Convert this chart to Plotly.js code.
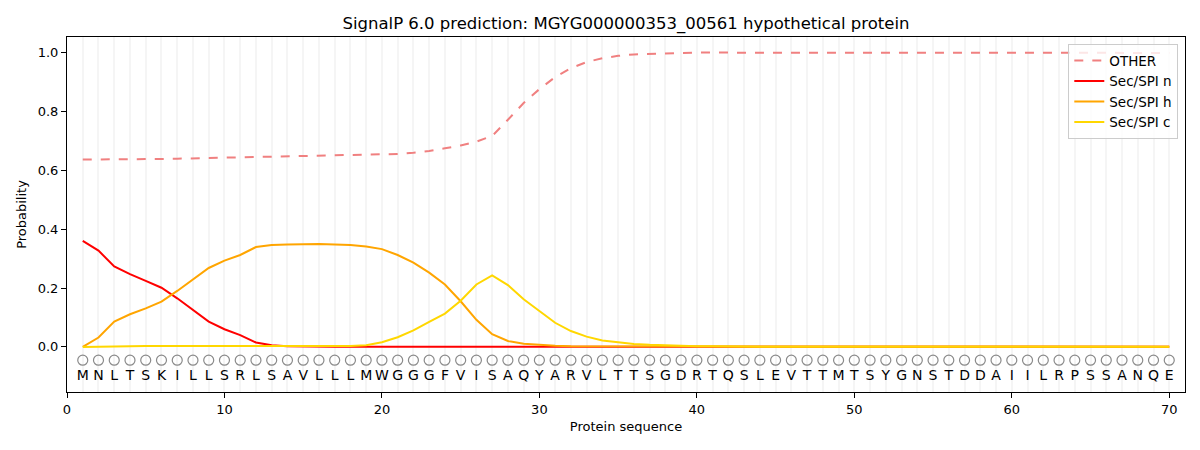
<!DOCTYPE html>
<html>
<head>
<meta charset="utf-8">
<script src="https://cdn.plot.ly/plotly-3.0.1.min.js"></script>
<style>
  body { margin: 0; background: #fff; }
  #chart { width: 1200px; height: 450px; }
</style>
</head>
<body>
<div id="chart"></div>
<script>
// protein sequence, one residue per position
const residues = "MNLTSKILLSRLSAVLLLMWGGGFVISAQYARVLTTSGDRTQSLEVTTMTSYGNSTDDAIILRPSSANQE".split("");
const positions = residues.map((r, i) => i + 1);

// values
const otherProb = [
	0.636, 0.636, 0.636, 0.637, 0.637, 0.638, 0.639, 0.640, 0.641, 0.642,
	0.643, 0.644, 0.645, 0.646, 0.647, 0.648, 0.649, 0.650, 0.651, 0.653,
	0.655, 0.659, 0.665, 0.674, 0.684, 0.697, 0.716, 0.771, 0.828, 0.875,
	0.916, 0.946, 0.967, 0.980, 0.988, 0.993, 0.995, 0.997, 0.998, 0.999,
	0.999, 0.999, 0.999, 0.999, 0.999, 0.999, 0.999, 0.999, 0.999, 0.999,
	0.999, 0.999, 0.999, 0.999, 0.999, 0.999, 0.999, 0.999, 0.999, 0.999,
	0.998, 0.998, 0.998, 0.998, 0.998, 0.998, 0.998, 0.998, 0.998, 0.998
];
const secN = [
	0.360, 0.327, 0.273, 0.247, 0.224, 0.201, 0.165, 0.125, 0.086, 0.060,
	0.040, 0.015, 0.006, 0.002, 0.001, 0.001, 0.001, 0.001, 0.001, 0.001,
	0.001, 0.001, 0.001, 0.001, 0.001, 0.001, 0.001, 0.001, 0.001, 0.001,
	0.001, 0.001, 0.001, 0.001, 0.001, 0.001, 0.001, 0.001, 0.001, 0.001,
	0.001, 0.001, 0.001, 0.001, 0.001, 0.001, 0.001, 0.001, 0.001, 0.001,
	0.001, 0.001, 0.001, 0.001, 0.001, 0.001, 0.001, 0.001, 0.001, 0.001,
	0.001, 0.001, 0.001, 0.001, 0.001, 0.001, 0.001, 0.001, 0.001, 0.001
];
const secH = [
	0.000, 0.032, 0.086, 0.111, 0.131, 0.154, 0.190, 0.228, 0.268, 0.293,
	0.312, 0.339, 0.346, 0.348, 0.349, 0.349, 0.348, 0.346, 0.341, 0.332,
	0.312, 0.286, 0.252, 0.212, 0.155, 0.092, 0.043, 0.020, 0.011, 0.007,
	0.004, 0.002, 0.002, 0.001, 0.001, 0.001, 0.001, 0.001, 0.001, 0.001,
	0.001, 0.001, 0.001, 0.001, 0.001, 0.001, 0.001, 0.001, 0.001, 0.001,
	0.001, 0.001, 0.001, 0.001, 0.001, 0.001, 0.001, 0.001, 0.001, 0.001,
	0.001, 0.001, 0.001, 0.001, 0.001, 0.001, 0.001, 0.001, 0.001, 0.001
];
const secC = [
	0.000, 0.000, 0.001, 0.002, 0.003, 0.003, 0.003, 0.002, 0.002, 0.002,
	0.002, 0.002, 0.002, 0.001, 0.001, 0.001, 0.002, 0.003, 0.006, 0.016,
	0.033, 0.056, 0.085, 0.113, 0.157, 0.212, 0.243, 0.210, 0.162, 0.122,
	0.082, 0.054, 0.035, 0.022, 0.015, 0.010, 0.007, 0.005, 0.003, 0.002,
	0.002, 0.001, 0.001, 0.001, 0.001, 0.001, 0.001, 0.001, 0.001, 0.001,
	0.001, 0.001, 0.001, 0.001, 0.001, 0.001, 0.001, 0.001, 0.001, 0.001,
	0.001, 0.001, 0.001, 0.001, 0.001, 0.001, 0.001, 0.001, 0.001, 0.001
];

const font = "DejaVu Sans, sans-serif";

let otherTrace = {
	x: positions, y: otherProb, name: "OTHER",
	type: "scatter", mode: "lines",
	line: {color: "#f08080", width: 2, dash: "dash"}
};
let nTrace = {
	x: positions, y: secN, name: "Sec/SPI n",
	type: "scatter", mode: "lines",
	line: {color: "#ff0000", width: 2}
};
let hTrace = {
	x: positions, y: secH, name: "Sec/SPI h",
	type: "scatter", mode: "lines",
	line: {color: "#ffa500", width: 2}
};
let cTrace = {
	x: positions, y: secC, name: "Sec/SPI c",
	type: "scatter", mode: "lines",
	line: {color: "#ffd700", width: 2}
};
let circleTrace = {
	x: positions, y: positions.map(() => -0.045),
	xaxis: "x2", type: "scatter", mode: "markers",
	marker: {symbol: "circle-open", size: 10, color: "#8a8a8a", line: {width: 1.2}},
	showlegend: false, hoverinfo: "skip"
};
let letterTrace = {
	x: positions, y: positions.map(() => -0.1),
	xaxis: "x2", type: "scatter", mode: "text",
	text: residues, textfont: {family: font, size: 14, color: "#000"},
	showlegend: false, hoverinfo: "skip"
};

let layout = {
	width: 1200, height: 450,
	margin: {l: 67, r: 15, t: 37, b: 58},
	paper_bgcolor: "#fff", plot_bgcolor: "#fff",
	font: {family: font, size: 13, color: "#000"},
	title: {text: "SignalP 6.0 prediction: MGYG000000353_00561 hypothetical protein",
		font: {family: font, size: 16.5}, xref: "paper", x: 0.5, xanchor: "center",
		yref: "container", y: 0.949, yanchor: "middle"},
	xaxis: {
		range: [0, 71], tick0: 1, dtick: 1,
		showgrid: true, gridcolor: "#f5f5f5", gridwidth: 1.8,
		showticklabels: false, ticks: "", zeroline: false,
		showline: true, mirror: true, linecolor: "#000", linewidth: 1
	},
	xaxis2: {
		overlaying: "x", anchor: "y", side: "bottom",
		range: [0, 71], tick0: 0, dtick: 10,
		showgrid: false, zeroline: false,
		ticks: "outside", ticklen: 5, tickcolor: "#000",
		tickfont: {family: font, size: 13},
		title: {text: "Protein sequence", font: {family: font, size: 13}, standoff: 6}
	},
	yaxis: {
		range: [-0.153, 1.052], tick0: 0, dtick: 0.2, tickformat: ".1f",
		showgrid: false, zeroline: false,
		ticks: "outside", ticklen: 5, tickcolor: "#000",
		showline: true, mirror: true, linecolor: "#000", linewidth: 1,
		tickfont: {family: font, size: 13},
		title: {text: "Probability", font: {family: font, size: 13}, standoff: 8}
	},
	legend: {
		x: 0.994, y: 0.98, xanchor: "right", yanchor: "top",
		bgcolor: "rgba(255,255,255,0.8)", bordercolor: "#cccccc", borderwidth: 1,
		font: {family: font, size: 13.5}
	},
	showlegend: true
};

Plotly.newPlot("chart", [otherTrace, nTrace, hTrace, cTrace, circleTrace, letterTrace], layout, {displayModeBar: false});
</script>
</body>
</html>
